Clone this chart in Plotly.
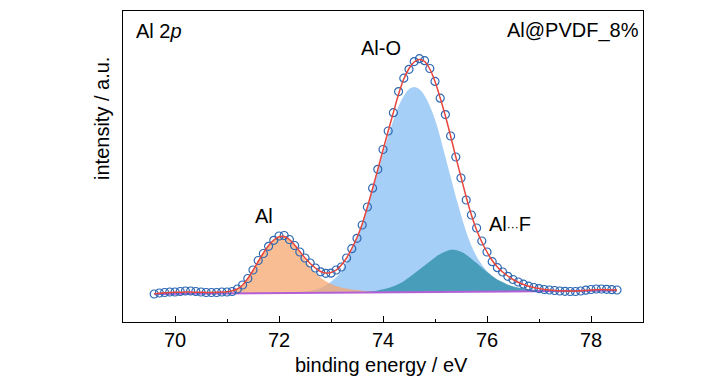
import plotly.graph_objects as go

# ---------------- data ----------------
energy = [69.6, 69.7, 69.8, 69.9,
          70.0, 70.1, 70.2, 70.3, 70.4, 70.5, 70.6, 70.7, 70.8, 70.9,
          71.0, 71.1, 71.2, 71.3, 71.4, 71.5, 71.6, 71.7, 71.8, 71.9,
          72.0, 72.1, 72.2, 72.3, 72.4, 72.5, 72.6, 72.7, 72.8, 72.9,
          73.0, 73.1, 73.2, 73.3, 73.4, 73.5, 73.6, 73.7, 73.8, 73.9,
          74.0, 74.1, 74.2, 74.3, 74.4, 74.5, 74.6, 74.7, 74.8, 74.9,
          75.0, 75.1, 75.2, 75.3, 75.4, 75.5, 75.6, 75.7, 75.8, 75.9,
          76.0, 76.1, 76.2, 76.3, 76.4, 76.5, 76.6, 76.7, 76.8, 76.9,
          77.0, 77.1, 77.2, 77.3, 77.4, 77.5, 77.6, 77.7, 77.8, 77.9,
          78.0, 78.1, 78.2, 78.3, 78.4, 78.5]

measured = [28, 29, 29.5, 30,
            30, 30.5, 31, 31, 30.5, 30, 29.5, 29.5, 29.5, 30,
            30, 30.5, 33, 37, 43.5, 52, 61.5, 68.5, 75.7, 81.7,
            86, 86.5, 82.5, 76.5, 70, 64, 59, 54, 50.2, 48.7,
            48.8, 52, 55, 64, 73.3, 83.7, 97, 115, 133.8, 152.7,
            172.5, 191, 209.3, 230.4, 243.8, 252.7, 260.4, 263.3, 261.3, 253.5,
            240.6, 223.8, 207.4, 186, 165, 144, 122, 107, 94, 81,
            70, 60.3, 54.3, 50, 45.7, 42.5, 40, 37.8, 35.8, 34.5,
            33.4, 32.5, 32, 31.5, 31, 30.7, 30.5, 30.5, 31, 31.8,
            32.5, 33, 33, 32.7, 32.3, 32]

fit = [28.3, 28.8, 29.2, 29.5,
       29.7, 29.8, 29.9, 29.9, 29.8, 29.7, 29.6, 29.6, 29.7, 29.9,
       30.3, 31.2, 33, 37, 43.5, 51.5, 60.5, 69, 76.5, 82,
       85.3, 85.6, 82.5, 77, 70.5, 64, 58.5, 54, 50.5, 49,
       49.5, 52, 57, 64, 73.5, 84.5, 98, 115, 133.5, 152.5,
       172, 191, 209.5, 228, 243, 253.5, 260, 262.5, 260.5, 253,
       240.5, 224, 206, 186, 165, 145, 125, 107, 92, 80,
       70, 61.5, 55, 50, 46, 42.5, 39.8, 37.5, 35.8, 34.4,
       33.4, 32.6, 32, 31.6, 31.3, 31.1, 31, 31, 31.2, 31.6,
       32, 32.3, 32.4, 32.3, 32.1, 32]

baseline_x = [69.6, 78.5]
baseline_y = [28.0, 31.4]

al_x = [70.8, 70.9, 71.0, 71.1, 71.2, 71.3, 71.4, 71.5, 71.6, 71.7, 71.8, 71.9,
        72.0, 72.1, 72.2, 72.3, 72.4, 72.5, 72.6, 72.7, 72.8, 72.9,
        73.0, 73.1, 73.2, 73.3, 73.4, 73.5, 73.6, 73.7, 73.8, 73.9, 74.0, 74.1]
al_y = [28.5, 28.8, 29.2, 30.1, 32.1, 36.1, 42.7, 51.2, 60.3, 68.8, 76.3, 81.9,
        84.9, 85.0, 82.0, 76.5, 69.6, 62.1, 55.1, 49.2, 44.2, 40.8,
        38.1, 36.0, 34.6, 33.4, 32.6, 31.9, 31.3, 30.9, 30.5, 30.2, 30.0, 29.7]

alo_x = [72.2, 72.3, 72.4, 72.5, 72.6, 72.7, 72.8, 72.9,
         73.0, 73.1, 73.2, 73.3, 73.4, 73.5, 73.6, 73.7, 73.8, 73.9,
         74.0, 74.1, 74.2, 74.3, 74.4, 74.5, 74.6, 74.7, 74.8, 74.9,
         75.0, 75.1, 75.2, 75.3, 75.4, 75.5, 75.6, 75.7, 75.8, 75.9,
         76.0, 76.1, 76.2, 76.3, 76.4, 76.5, 76.6, 76.7, 76.8, 76.9,
         77.0, 77.1, 77.2, 77.3]
alo_y = [29.0, 29.4, 29.9, 30.4, 31.2, 32.5, 34.2, 36.8,
         40.3, 44.8, 50.4, 60.4, 71.5, 84.5, 99.0, 115.0, 132.2, 150.3,
         168.6, 186.2, 202.1, 215.8, 226.1, 232.7, 234.9, 232.7, 226.3, 216.0,
         202.5, 185.1, 165.1, 145.2, 125.2, 107.3, 90.3, 76.3, 65.4, 57.4,
         50.9, 46.0, 42.0, 39.1, 36.8, 35.1, 33.9, 33.0, 32.3, 31.9,
         31.5, 31.3, 31.1, 30.9]

alf_x = [73.5, 73.6, 73.7, 73.8, 73.9,
         74.0, 74.1, 74.2, 74.3, 74.4, 74.5, 74.6, 74.7, 74.8, 74.9,
         75.0, 75.1, 75.2, 75.3, 75.4, 75.5, 75.6, 75.7, 75.8, 75.9,
         76.0, 76.1, 76.2, 76.3, 76.4, 76.5, 76.6, 76.7, 76.8, 76.9,
         77.0, 77.1, 77.2, 77.3]
alf_y = [29.5, 29.8, 30.3, 30.8, 31.6,
         32.7, 34.0, 35.7, 38.0, 40.8, 44.4, 48.4, 52.4, 56.5, 60.5,
         64.6, 68.1, 70.6, 72.2, 71.9, 70.3, 67.3, 63.3, 58.9, 54.4,
         49.9, 46.0, 42.5, 39.9, 37.6, 35.8, 34.5, 33.5, 32.7, 32.2,
         31.8, 31.5, 31.2, 30.9]

x_ticks = [70, 72, 74, 76, 78]
x_tick_labels = ["70", "72", "74", "76", "78"]

FONT = "Liberation Sans, Arial, sans-serif"

fig = go.Figure()

# component fills (closed along the straight baseline)
fig.add_trace(go.Scatter(x=alo_x, y=alo_y, mode="lines", fill="toself",
                         line=dict(width=0, shape="spline"),
                         fillcolor="rgba(140,194,245,0.78)", hoverinfo="skip"))
fig.add_trace(go.Scatter(x=al_x, y=al_y, mode="lines", fill="toself",
                         line=dict(width=0, shape="spline"),
                         fillcolor="rgba(246,163,105,0.72)", hoverinfo="skip"))
fig.add_trace(go.Scatter(x=alf_x, y=alf_y, mode="lines", fill="toself",
                         line=dict(width=0, shape="spline"),
                         fillcolor="rgba(40,140,165,0.75)", hoverinfo="skip"))

# background line
fig.add_trace(go.Scatter(x=baseline_x, y=baseline_y, mode="lines",
                         line=dict(color="#B45FD6", width=2), hoverinfo="skip"))

# measured points
fig.add_trace(go.Scatter(x=energy, y=measured, mode="markers",
                         marker=dict(symbol="circle-open", size=8, color="#2D69B4",
                                     line=dict(width=1.2))))

# envelope fit
fig.add_trace(go.Scatter(x=energy, y=fit, mode="lines",
                         line=dict(color="#E8453C", width=1.5, shape="spline")))

annotations = [
    dict(x=69.21, y=291.4, text="Al 2<i>p</i>", xanchor="left", yanchor="middle"),
    dict(x=78.96, y=291.4, text="Al@PVDF_8%", xanchor="right", yanchor="middle"),
    dict(x=73.97, y=274.5, text="Al-O", xanchor="center", yanchor="middle"),
    dict(x=71.71, y=106.5, text="Al", xanchor="center", yanchor="middle"),
    dict(x=76.0, y=98.5, text="Al<span style='font-size:12px'>···</span>F",
         xanchor="left", yanchor="middle"),
    dict(x=73.97, y=-0.138, yref="paper", text="binding energy / eV",
         xanchor="center", yanchor="middle"),
    dict(x=-0.0404, xref="paper", y=0.656, yref="paper", text="intensity / a.u.",
         textangle=-90, xanchor="center", yanchor="middle"),
]
for a in annotations:
    a.setdefault("xref", "x")
    a.setdefault("yref", "y")
    a.setdefault("font", dict(size=20, family=FONT, color="black"))
    a["showarrow"] = False

# the page body adds an 8 px offset, so margins are shifted to compensate
fig.update_layout(
    width=728, height=390,
    margin=dict(l=115, r=93, t=3, b=76),
    paper_bgcolor="white", plot_bgcolor="white",
    showlegend=False,
    annotations=annotations,
    font=dict(family=FONT, size=20, color="black"),
    xaxis=dict(range=[69, 79], tickvals=x_ticks, ticktext=x_tick_labels,
               ticks="inside", ticklen=6, tickwidth=1, tickcolor="black",
               minor=dict(ticks="inside", ticklen=3, tickwidth=1, tickcolor="black",
                          tickvals=[69, 71, 73, 75, 77, 79]),
               showline=True, linecolor="black", linewidth=1, mirror=True,
               showgrid=False, zeroline=False,
               tickfont=dict(size=20, family=FONT, color="black")),
    yaxis=dict(range=[0, 311], showticklabels=False, ticks="",
               showline=True, linecolor="black", linewidth=1, mirror=True,
               showgrid=False, zeroline=False),
)

fig.write_html("out.html")
